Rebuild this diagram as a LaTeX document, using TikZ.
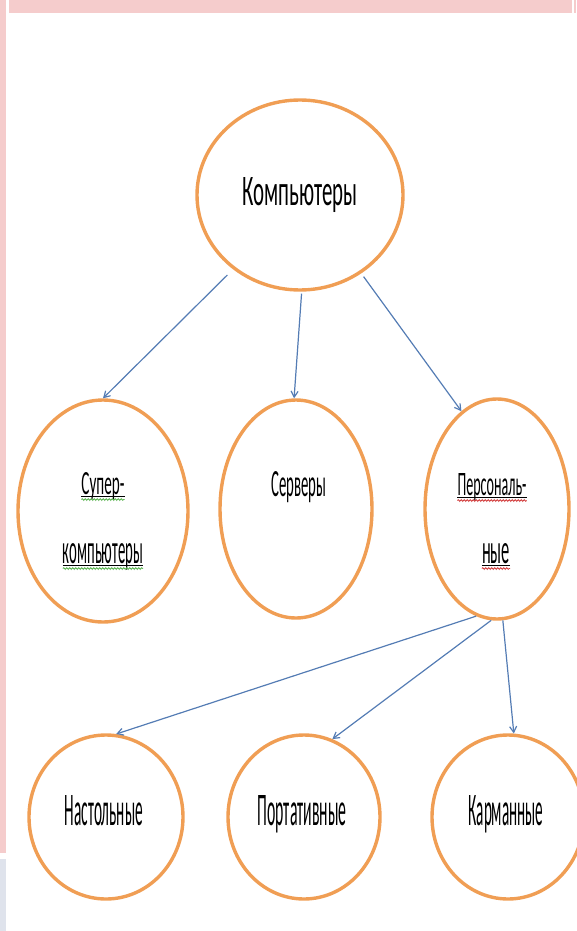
\documentclass[tikz,border=0pt]{standalone}
\usepackage{fontspec}
\setmainfont{Carlito}
\usepackage{graphicx}
\usetikzlibrary{shapes.geometric,arrows.meta,decorations.pathmorphing}
\definecolor{ring}{RGB}{240,158,84}
\definecolor{link}{RGB}{84,124,180}
\definecolor{slide}{RGB}{245,204,204}
\definecolor{slidegrey}{RGB}{223,227,236}
\definecolor{spellgreen}{RGB}{90,180,80}
\definecolor{spellred}{RGB}{210,60,60}
% squeeze a word into the box it takes in the slide
\newcommand{\fitword}[3]{\resizebox{#1}{#2}{#3}}

\begin{document}
\begin{tikzpicture}[x=1pt,y=-1pt,
  ring/.style={ellipse,draw=ring,line width=3.4pt,fill=white,inner sep=0pt},
  word/.style={inner sep=0pt,anchor=base},
  link/.style={draw=link,line width=1.2pt,-{Straight Barb[length=6pt,width=7pt]}},
  wavy/.style={decorate,decoration={snake,amplitude=0.9pt,segment length=3pt},line width=0.8pt}]
\useasboundingbox (0,0) rectangle (576,931);
% slide frame
\fill[slide] (0,0) rectangle (6,853);
\fill[slide] (9,0) rectangle (572,13);
\fill[slide] (574,0) rectangle (576,13);
\fill[slidegrey] (0,859) rectangle (6,931);

% circles
\node[ring,minimum width=206pt,minimum height=190pt] (comp) at (300,195) {};
\node[ring,minimum width=170pt,minimum height=222pt] (super) at (103,511) {};
\node[ring,minimum width=152pt,minimum height=218pt] (serv) at (296,509) {};
\node[ring,minimum width=144pt,minimum height=220pt] (pers) at (497,509) {};
\node[ring,minimum width=154pt,minimum height=164pt] (desk) at (106,817) {};
\node[ring,minimum width=152pt,minimum height=164pt] (lap) at (304,817) {};
\node[ring,minimum width=152pt,minimum height=164pt] (pocket) at (508,817) {};

% texts
\node[word] (comp-t) at (300,205) {\fitword{115pt}{28pt}{Компьютеры}};
\node[word] (sup-a) at (103,494) {\fitword{43pt}{22pt}{Супер-}};
\node[word] (sup-b) at (103,563) {\fitword{80pt}{20pt}{компьютеры}};
\node[word] (serv-t) at (299,496) {\fitword{55pt}{25pt}{Серверы}};
\node[word] (pers-a) at (492,495) {\fitword{69pt}{22pt}{Персональ-}};
\node[word] (pers-b) at (496,563) {\fitword{28pt}{20pt}{ные}};
\node[word] (desk-t) at (104,825) {\fitword{78pt}{30pt}{Настольные}};
\node[word] (lap-t) at (302,825) {\fitword{89pt}{30pt}{Портативные}};
\node[word] (pocket-t) at (506,825) {\fitword{75pt}{30pt}{Карманные}};

% underlines
\foreach \w/\c in {sup-a/spellgreen,sup-b/spellgreen,pers-a/spellred,pers-b/spellred}{
  \draw[line width=0.8pt] ([yshift=-2.5pt]\w.base west) -- ([yshift=-2.5pt]\w.base east);
  \draw[wavy,\c] ([yshift=-5.5pt]\w.base west) -- ([yshift=-5.5pt]\w.base east);
}

% arrows
\draw[link,shorten <=8pt] (comp.228) -- (super.90);
\draw[link,shorten <=2pt] (comp.271) -- (serv.91);
\draw[link,shorten <=4pt] (comp.308) -- (pers.110);
\draw[link] (pers.259) -- (desk.83);
\draw[link] (pers.267) -- (lap.70);
\draw[link] (pers.273) -- (pocket.86);
\end{tikzpicture}
\end{document}
